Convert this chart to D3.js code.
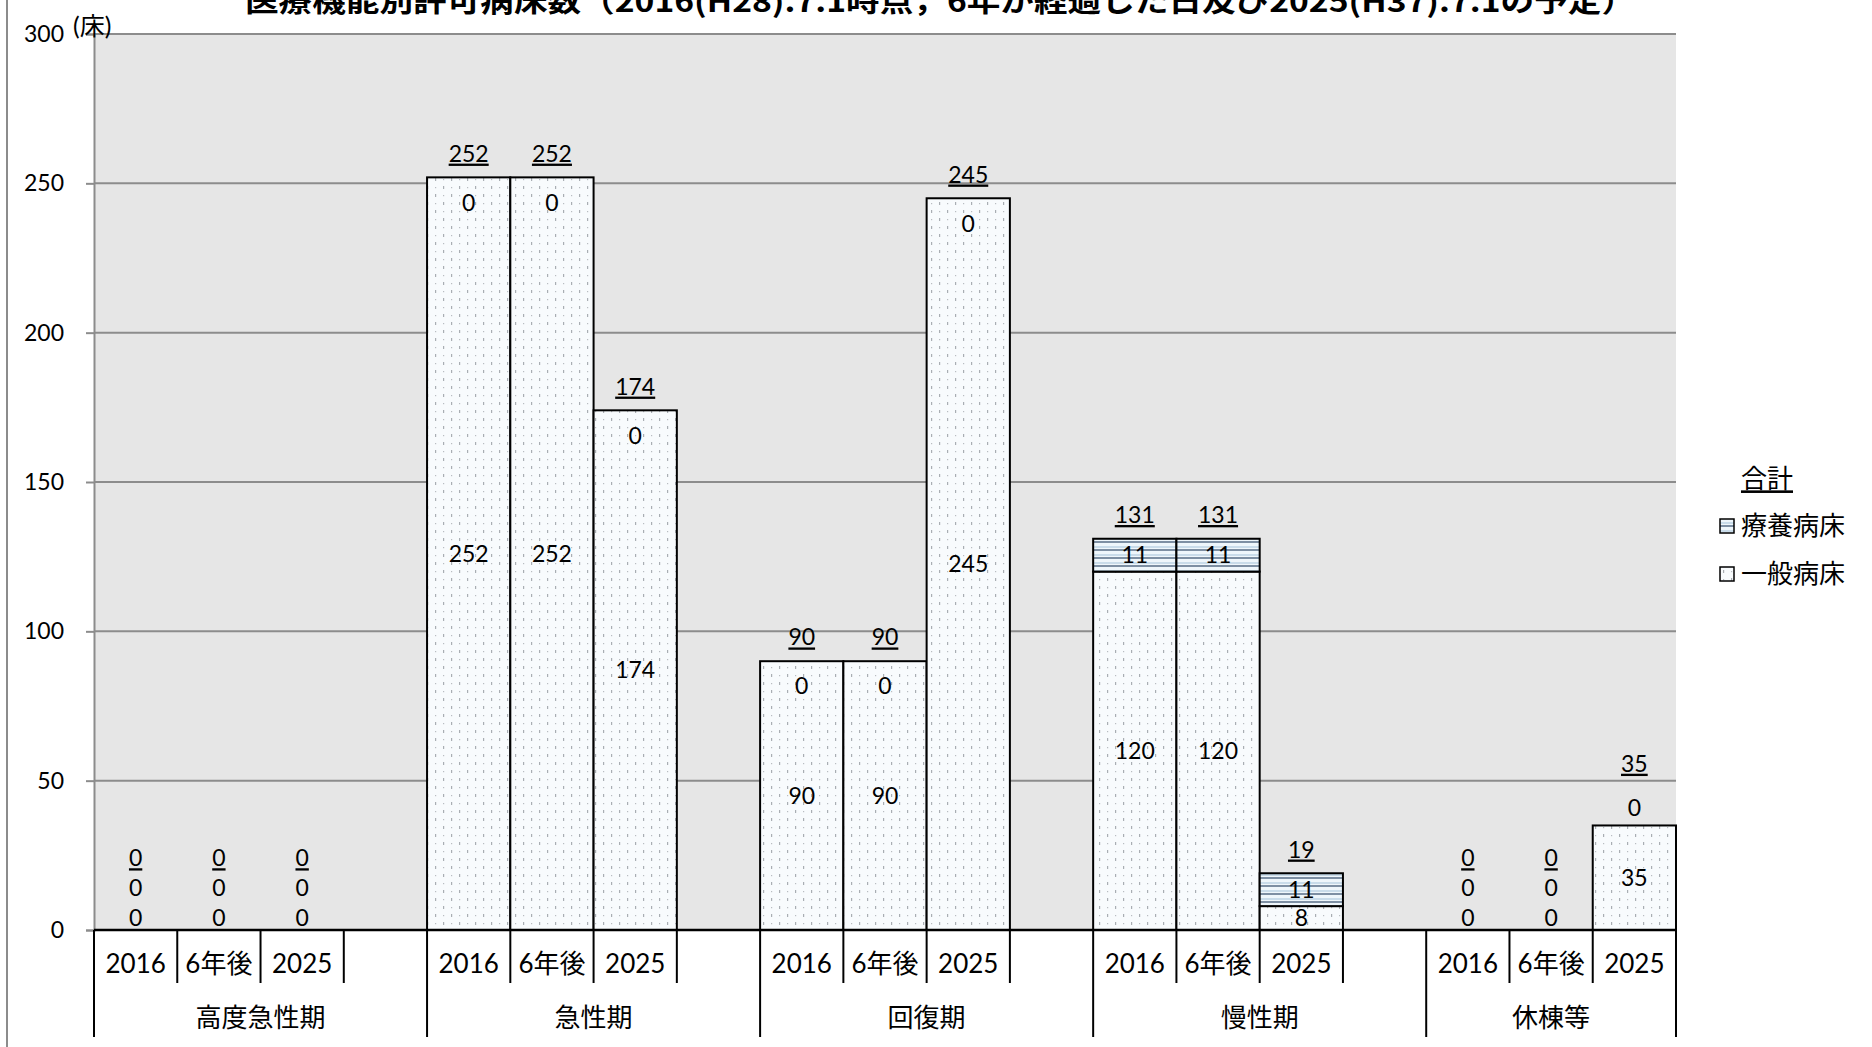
<!DOCTYPE html>
<html>
<head>
<meta charset="utf-8">
<script src="https://cdn.jsdelivr.net/npm/d3@7"></script>
<style>
  body { margin: 0; background: #ffffff; }
  svg text { font-family: "Lato", "Noto Sans CJK JP", sans-serif; fill: #000; }
</style>
</head>
<body>
<svg id="CHART" width="1872" height="1047"></svg>
<script>
// Chart data
var groups = ["高度急性期", "急性期", "回復期", "慢性期", "休棟等"];
var periods = ["2016", "6年後", "2025"];
var generalBeds = [[0, 0, 0], [252, 252, 174], [90, 90, 245], [120, 120, 8], [0, 0, 35]];
var ryoyoBeds = [[0, 0, 0], [0, 0, 0], [0, 0, 0], [11, 11, 11], [0, 0, 0]];
var yTicks = [0, 50, 100, 150, 200, 250, 300];
var legendNames = ["療養病床", "一般病床"];
var titleText = "医療機能別許可病床数（2016(H28).7.1時点，6年が経過した日及び2025(H37).7.1の予定）";

let svg = d3.select("#CHART");

const PLOT = { LEFT: 94, RIGHT: 1676, TOP: 34, BOTTOM: 930 };
const NUM_SIZE = "23px", JP_SIZE = "26px";
let hasJP = s => /[^\x00-\x7f]/.test(s);

// slots: 3 bars + 1 blank per group, last group without blank
var slots = [];
groups.forEach((g, gi) => {
  periods.forEach((p, pi) => slots.push({ key: g + "|" + p, group: gi, period: pi }));
  if (gi < groups.length - 1) slots.push({ key: g + "|blank", group: gi, period: -1 });
});

let xScale = d3.scaleBand()
  .domain(slots.map(d => d.key))
  .range([PLOT.LEFT, PLOT.RIGHT])
  .padding(0);

let yScale = d3.scaleLinear()
  .domain([0, 300])
  .range([PLOT.BOTTOM, PLOT.TOP]);

// patterns
let defs = svg.append("defs");
let dots = defs.append("pattern").attr("id", "dots")
  .attr("patternUnits", "userSpaceOnUse").attr("width", 16).attr("height", 16);
dots.append("rect").attr("width", 16).attr("height", 16).attr("fill", "#f8fbfd");
[[3, 2], [11, 10]].forEach(p => {
  dots.append("rect").attr("x", p[0]).attr("y", p[1]).attr("width", 1.2).attr("height", 3).attr("fill", "#a9aeb3");
});
[[11, 3], [3, 11]].forEach(p => {
  dots.append("rect").attr("x", p[0]).attr("y", p[1]).attr("width", 1.2).attr("height", 1.2).attr("fill", "#b9bdc1");
});

let stripes = defs.append("pattern").attr("id", "stripes")
  .attr("patternUnits", "userSpaceOnUse").attr("width", 8).attr("height", 8);
stripes.append("rect").attr("width", 8).attr("height", 8).attr("fill", "#eef6fb");
stripes.append("rect").attr("y", 2).attr("width", 8).attr("height", 2).attr("fill", "#c9dcea");
stripes.append("rect").attr("y", 5).attr("width", 8).attr("height", 2).attr("fill", "#7d8fa3");

// outer left frame line
svg.append("line")
  .attr("x1", 7).attr("x2", 7).attr("y1", 0).attr("y2", 1047)
  .attr("stroke", "#8c8c8c").attr("stroke-width", 2);

// plot background
svg.append("rect")
  .attr("x", PLOT.LEFT).attr("y", PLOT.TOP)
  .attr("width", PLOT.RIGHT - PLOT.LEFT).attr("height", PLOT.BOTTOM - PLOT.TOP)
  .attr("fill", "#e6e6e6");

// gridlines
svg.append("g").selectAll("line")
  .data(yTicks.filter(t => t > 0))
  .enter().append("line")
  .attr("x1", PLOT.LEFT).attr("x2", PLOT.RIGHT)
  .attr("y1", d => yScale(d)).attr("y2", d => yScale(d))
  .attr("stroke", "#8c8c8c").attr("stroke-width", 2);

// y axis
let yAxis = d3.axisLeft(yScale).tickValues(yTicks).tickSize(8).tickPadding(22);
let yG = svg.append("g")
  .attr("transform", `translate(${PLOT.LEFT},0)`)
  .call(yAxis);
yG.select(".domain").attr("stroke", "#8c8c8c").attr("stroke-width", 2);
yG.selectAll(".tick line").attr("stroke", "#8c8c8c").attr("stroke-width", 2);
yG.selectAll("text").style("font-size", NUM_SIZE).style("font-family", "Lato, sans-serif");

// unit label
svg.append("text")
  .attr("x", 73).attr("y", 35)
  .style("font-size", "25px")
  .text("(床)");

// bars
var bars = [];
groups.forEach((g, gi) => {
  periods.forEach((p, pi) => {
    let general = generalBeds[gi][pi], ryoyo = ryoyoBeds[gi][pi];
    bars.push({ key: g + "|" + p, general: general, ryoyo: ryoyo, total: general + ryoyo });
  });
});

let barG = svg.append("g");
barG.selectAll("rect.general")
  .data(bars.filter(d => d.general > 0))
  .enter().append("rect")
  .attr("class", "general")
  .attr("x", d => xScale(d.key))
  .attr("y", d => yScale(d.general))
  .attr("width", xScale.bandwidth())
  .attr("height", d => yScale(0) - yScale(d.general))
  .attr("fill", "url(#dots)")
  .attr("stroke", "#000").attr("stroke-width", 2);

barG.selectAll("rect.ryoyo")
  .data(bars.filter(d => d.ryoyo > 0))
  .enter().append("rect")
  .attr("class", "ryoyo")
  .attr("x", d => xScale(d.key))
  .attr("y", d => yScale(d.total))
  .attr("width", xScale.bandwidth())
  .attr("height", d => yScale(d.general) - yScale(d.total))
  .attr("fill", "url(#stripes)")
  .attr("stroke", "#000").attr("stroke-width", 2);

// label positions, avoiding overlaps like the original
bars.forEach(b => {
  let base = yScale(0), top = yScale(b.total);
  let gy = Math.min((base + yScale(b.general)) / 2, base - 12);
  let ry, lifted = false;
  if (b.ryoyo > 0) ry = (yScale(b.general) + top) / 2;
  else if (b.general > 0) {
    ry = top + 25;
    if (Math.abs(ry - gy) < 30) { ry = top - 18; lifted = true; }
  } else ry = gy - 30;
  b.gy = gy; b.ry = ry;
  b.ty = Math.min(top - 24, ry - (lifted ? 44 : 30), gy - 30);
});

let labelG = svg.append("g").style("font-size", NUM_SIZE);
bars.forEach(b => {
  let cx = xScale(b.key) + xScale.bandwidth() / 2;
  labelG.append("text").attr("x", cx).attr("y", b.gy).attr("dy", "0.36em")
    .attr("text-anchor", "middle").text(b.general);
  labelG.append("text").attr("x", cx).attr("y", b.ry).attr("dy", "0.36em")
    .attr("text-anchor", "middle").text(b.ryoyo);
  labelG.append("text").attr("x", cx).attr("y", b.ty).attr("dy", "0.36em")
    .attr("text-anchor", "middle").style("text-decoration", "underline").text(b.total);
});

// x axis (category labels)
let xAxis = d3.axisBottom(xScale)
  .tickSize(0).tickPadding(0)
  .tickFormat(k => { let p = k.split("|")[1]; return p === "blank" ? "" : p; });
let xG = svg.append("g")
  .attr("transform", `translate(0,${PLOT.BOTTOM})`)
  .call(xAxis);
xG.select(".domain").remove();
xG.selectAll("text").attr("y", 34).attr("dy", "0.36em")
  .style("font-size", d => hasJP(d) ? JP_SIZE : NUM_SIZE)
  .style("font-family", "Lato, 'Noto Sans CJK JP', sans-serif");

svg.append("line")
  .attr("x1", PLOT.LEFT).attr("x2", PLOT.RIGHT)
  .attr("y1", PLOT.BOTTOM).attr("y2", PLOT.BOTTOM)
  .attr("stroke", "#000").attr("stroke-width", 2.5);

// separators
let sepG = svg.append("g").attr("stroke", "#000").attr("stroke-width", 2);
slots.forEach((s, i) => {
  let x = xScale(s.key);
  let groupStart = i === 0 || slots[i - 1].group !== s.group;
  sepG.append("line").attr("x1", x).attr("x2", x)
    .attr("y1", PLOT.BOTTOM).attr("y2", groupStart ? 1037 : 983);
});
sepG.append("line").attr("x1", PLOT.RIGHT).attr("x2", PLOT.RIGHT)
  .attr("y1", PLOT.BOTTOM).attr("y2", 1037);

// group labels
groups.forEach((g, gi) => {
  let gs = slots.filter(s => s.group === gi);
  let x0 = xScale(gs[0].key), x1 = xScale(gs[gs.length - 1].key) + xScale.bandwidth();
  svg.append("text")
    .attr("x", (x0 + x1) / 2).attr("y", 1018).attr("dy", "0.36em")
    .attr("text-anchor", "middle").style("font-size", JP_SIZE)
    .text(g);
});

// legend
svg.append("text")
  .attr("x", 1767).attr("y", 479).attr("dy", "0.36em")
  .attr("text-anchor", "middle").style("font-size", JP_SIZE)
  .style("text-decoration", "underline").text("合計");
legendNames.forEach((n, i) => {
  let ly = 526 + i * 48;
  svg.append("rect")
    .attr("x", 1720).attr("y", ly - 7).attr("width", 14).attr("height", 14)
    .attr("fill", i === 0 ? "url(#stripes)" : "url(#dots)")
    .attr("stroke", "#000").attr("stroke-width", 1.5);
  svg.append("text")
    .attr("x", 1741).attr("y", ly).attr("dy", "0.36em")
    .style("font-size", JP_SIZE).text(n);
});

// title (clipped at the top like the original)
svg.append("text")
  .attr("x", 940).attr("y", 12)
  .attr("text-anchor", "middle")
  .attr("textLength", 1390).attr("lengthAdjust", "spacingAndGlyphs")
  .style("font-size", "29px").style("font-weight", "bold")
  .style("font-family", "'Noto Sans CJK JP', sans-serif")
  .text(titleText);
</script>
</body>
</html>
